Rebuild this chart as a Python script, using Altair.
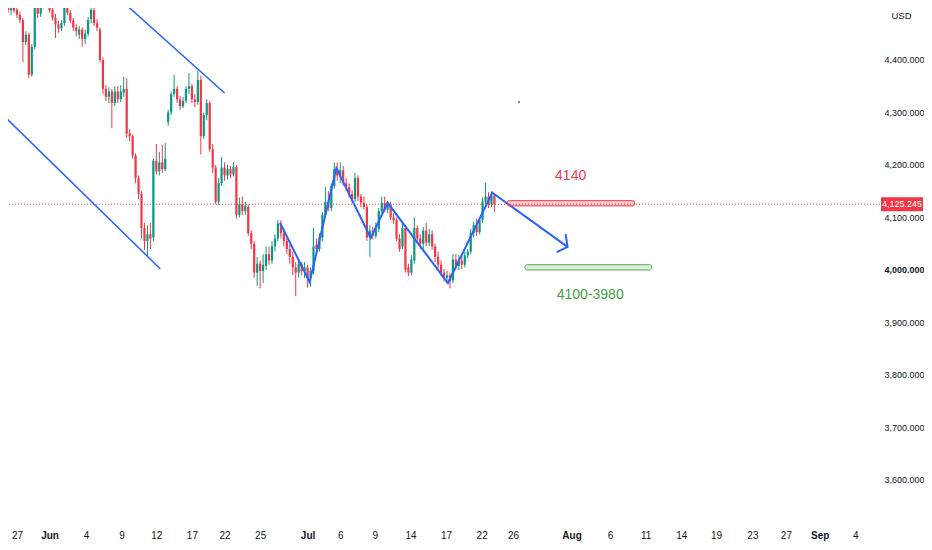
import altair as alt
import pandas as pd

# ---------------- data ----------------
opens = [4505, 4495, 4500, 4496, 4486, 4476, 4434, 4448, 4372, 4425,
         4500, 4488, 4505, 4512, 4510, 4496, 4480, 4468, 4460, 4470,
         4505, 4490, 4475, 4462, 4448, 4458, 4440, 4450, 4478, 4495,
         4470, 4458, 4400, 4345, 4330, 4340, 4318, 4340, 4325, 4338,
         4345, 4260, 4255, 4218, 4175, 4145, 4080, 4055, 4068, 4062,
         4208, 4188, 4205, 4192, 4282, 4300, 4335, 4345, 4325, 4312,
         4322, 4345, 4350, 4325, 4320, 4362, 4255, 4295, 4318, 4230,
         4195, 4130, 4165, 4195, 4180, 4192, 4182, 4196, 4105, 4125,
         4112, 4120, 4070, 4050, 3995, 4012, 3998, 4008, 4030, 4018,
         4045, 4060, 4088, 4070, 4055, 4040, 4025, 4005, 3995, 4012,
         3998, 4005, 3985, 3998, 4048, 4040, 4062, 4105, 4130, 4118,
         4160, 4192, 4178, 4190, 4165, 4158, 4145, 4135, 4175, 4140,
         4128, 4120, 4062, 4075, 4065, 4078, 4112, 4128, 4115, 4125,
         4100, 4095, 4060, 4045, 4080, 4005, 3995, 4018, 4080, 4060,
         4050, 4075, 4052, 4068, 4045, 4025, 4010, 3995, 3985, 3990,
         3980, 4020, 4008, 4018, 4010, 4028, 4035, 4070, 4085, 4072,
         4095, 4130, 4140, 4125, 4142]
highs = [4514, 4505, 4510, 4512, 4492, 4480, 4455, 4452, 4430, 4510,
         4508, 4512, 4520, 4525, 4518, 4505, 4488, 4475, 4476, 4515,
         4512, 4495, 4480, 4468, 4465, 4462, 4458, 4482, 4510, 4500,
         4478, 4462, 4405, 4352, 4348, 4345, 4350, 4350, 4352, 4368,
         4365, 4268, 4258, 4222, 4180, 4150, 4090, 4085, 4090, 4212,
         4240, 4225, 4238, 4242, 4305, 4340, 4372, 4350, 4332, 4330,
         4350, 4375, 4355, 4335, 4380, 4370, 4300, 4325, 4322, 4240,
         4200, 4175, 4215, 4205, 4200, 4198, 4205, 4200, 4138, 4140,
         4130, 4125, 4075, 4055, 4025, 4018, 4030, 4045, 4045, 4055,
         4068, 4095, 4095, 4078, 4062, 4050, 4035, 4015, 4020, 4015,
         4015, 4010, 4005, 4080, 4060, 4070, 4110, 4158, 4150, 4165,
         4205, 4205, 4205, 4198, 4175, 4165, 4152, 4185, 4180, 4145,
         4140, 4125, 4085, 4082, 4090, 4118, 4140, 4140, 4132, 4130,
         4108, 4100, 4068, 4090, 4085, 4012, 4028, 4100, 4085, 4068,
         4082, 4090, 4078, 4075, 4050, 4035, 4018, 4002, 3998, 3995,
         4030, 4030, 4028, 4028, 4035, 4040, 4078, 4092, 4098, 4100,
         4138, 4166, 4148, 4150, 4145]
lows = [4490, 4486, 4490, 4480, 4470, 4396, 4428, 4366, 4368, 4420,
        4480, 4482, 4498, 4500, 4490, 4475, 4442, 4452, 4455, 4465,
        4485, 4470, 4455, 4445, 4440, 4425, 4430, 4445, 4470, 4465,
        4455, 4395, 4335, 4322, 4318, 4270, 4312, 4318, 4320, 4330,
        4252, 4245, 4212, 4165, 4135, 4060, 4038, 4025, 4040, 4055,
        4182, 4180, 4185, 4188, 4275, 4295, 4330, 4318, 4305, 4308,
        4318, 4335, 4318, 4310, 4315, 4220, 4250, 4285, 4225, 4185,
        4125, 4125, 4160, 4170, 4172, 4175, 4178, 4098, 4100, 4105,
        4105, 4065, 4040, 3985, 3970, 3965, 3975, 4000, 4010, 4012,
        4035, 4055, 4060, 4045, 4030, 4012, 3990, 3950, 3985, 3990,
        3985, 3966, 3968, 3992, 4030, 4035, 4055, 4100, 4112, 4112,
        4155, 4170, 4165, 4160, 4150, 4138, 4128, 4130, 4132, 4120,
        4115, 4055, 4025, 4058, 4060, 4072, 4108, 4110, 4108, 4095,
        4088, 4055, 4035, 4040, 3995, 3988, 3990, 4012, 4050, 4040,
        4040, 4045, 4045, 4038, 4015, 4000, 3988, 3978, 3975, 3965,
        3975, 4000, 4000, 4002, 4005, 4022, 4030, 4062, 4065, 4068,
        4090, 4125, 4118, 4120, 4110]
closes = [4495, 4500, 4494, 4486, 4476, 4434, 4448, 4372, 4425, 4500,
          4488, 4505, 4512, 4508, 4495, 4480, 4468, 4460, 4470, 4505,
          4490, 4475, 4462, 4455, 4458, 4440, 4450, 4476, 4496, 4470,
          4462, 4400, 4345, 4330, 4340, 4318, 4340, 4325, 4340, 4345,
          4260, 4255, 4218, 4175, 4145, 4080, 4055, 4068, 4060, 4208,
          4188, 4205, 4192, 4212, 4300, 4335, 4345, 4325, 4312, 4322,
          4345, 4350, 4325, 4320, 4362, 4255, 4295, 4318, 4230, 4195,
          4130, 4165, 4195, 4180, 4192, 4182, 4196, 4105, 4125, 4112,
          4122, 4070, 4050, 3995, 4012, 3998, 4010, 4030, 4018, 4045,
          4060, 4088, 4070, 4055, 4040, 4025, 4005, 3995, 4012, 3998,
          4005, 3985, 3998, 4045, 4040, 4062, 4105, 4130, 4118, 4160,
          4192, 4180, 4190, 4165, 4158, 4145, 4135, 4175, 4140, 4128,
          4120, 4062, 4075, 4065, 4078, 4112, 4128, 4115, 4125, 4100,
          4095, 4060, 4040, 4080, 4000, 3995, 4020, 4080, 4060, 4050,
          4075, 4052, 4068, 4045, 4025, 4010, 3995, 3985, 3990, 3978,
          4020, 4008, 4018, 4010, 4028, 4035, 4070, 4085, 4072, 4095,
          4130, 4140, 4125, 4142, 4125.245]

last_price = [4125.245]

# time axis: bar index -> label
tick_idx = [3, 14, 26.3, 38.3, 50, 62, 73, 85, 101, 112, 123.7, 135.7, 147.7,
            159.7, 170.3, 190, 203, 215, 227, 238.7, 251, 262.3, 273.7, 285.7]
tick_lab = ['27', 'Jun', '4', '9', '12', '17', '22', '25', 'Jul', '6', '9', '14',
            '17', '22', '26', 'Aug', '6', '11', '14', '19', '23', '27', 'Sep', '4']
month_idx = [14, 101, 190, 273.7]

price_ticks = [3600, 3700, 3800, 3900, 4000, 4100, 4200, 4300, 4400]

# drawings (bar index, price)
channel_idx = [38, 73, -1, 51.33]
channel_price = [4514.3, 4337, 4291.4, 4002]
channel_id = ['upper', 'upper', 'lower', 'lower']

zig_idx = [91.7, 101.7, 110.7, 122.3, 128, 148.3, 163.3, 188.67]
zig_price = [4090, 3977, 4194, 4061, 4128, 3975, 4147, 4044]

head_idx = [188, 188.67, 185]
head_price = [4068.5, 4044, 4034]

red_box = dict(x1=[168.3], x2=[211.3], y1=[4122], y2=[4132])
green_box = dict(x1=[174.3], x2=[217], y1=[4000], y2=[4010])

red_text = dict(t=['4140'], i=[189.7], p=[4179])
green_text = dict(t=['4100-3980'], i=[196.3], p=[3952.5])

dot = dict(i=[172.3], p=[4320])

# ---------------- chart ----------------
W, H = 872, 507
xs = alt.Scale(domain=[1.6667, 292.333], nice=False, zero=False)
ys = alt.Scale(domain=[3533.3, 4499.0], nice=False, zero=False)

UP, DOWN, BLUE, GREEN = '#089981', '#f23645', '#2962ff', '#4caf50'
FONT = "Liberation Sans, Arial, sans-serif"
TXT = '#131722'

candles = pd.DataFrame({'i': list(range(len(closes))), 'open': opens,
                        'high': highs, 'low': lows, 'close': closes})

labels_js = "[" + ",".join(f"'{t}'" for t in tick_lab) + "]"
values_js = "[" + ",".join(str(v) for v in tick_idx) + "]"
months_js = "[" + ",".join(str(v) for v in month_idx) + "]"

x_axis = alt.Axis(values=tick_idx, labelExpr=f"{labels_js}[indexof({values_js}, datum.value)]",
                  grid=False, domain=False, ticks=False, tickSize=0, labelPadding=20,
                  labelBaseline='middle', labelFont=FONT, labelFontSize=10, labelColor=TXT,
                  labelOverlap=False, labelFlush=False, labelBound=False, title=None,
                  labelFontWeight={"condition": {"test": f"indexof({months_js}, datum.value) >= 0",
                                                 "value": "bold"}, "value": "normal"})
y_axis = alt.Axis(orient='right', values=price_ticks, format=',.3f', grid=False, domain=False,
                  ticks=False, tickSize=0, labelPadding=4, labelFont=FONT, labelFontSize=9,
                  labelColor=TXT, labelOverlap=False, labelFlush=False,
                  labelFontWeight={"condition": {"test": "datum.value == 4000", "value": "bold"},
                                   "value": "normal"},
                  title='USD', titleAngle=0, titleX=21, titleY=7, titleFont=FONT,
                  titleFontSize=9.5, titleFontWeight='normal', titleColor=TXT,
                  titleAlign='center', titleBaseline='middle')


def X(field):
    return alt.X(field, scale=xs, axis=x_axis)


def Y(field):
    return alt.Y(field, scale=ys, axis=y_axis)


color = alt.condition('datum.close >= datum.open', alt.value(UP), alt.value(DOWN))

wicks = alt.Chart(candles).mark_rule(clip=True, strokeWidth=1).encode(
    x=X('i:Q'), y=Y('low:Q'), y2='high:Q', color=color)
bodies = alt.Chart(candles).mark_bar(clip=True, size=2.2).encode(
    x=X('i:Q'), y=Y('open:Q'), y2='close:Q', color=color)

price_df = pd.DataFrame({'p': last_price})
price_line = alt.Chart(price_df).mark_rule(strokeDash=[1, 2], color=DOWN, strokeWidth=1).encode(
    y=Y('p:Q'))
price_box = alt.Chart(price_df).mark_rule(color=DOWN, strokeWidth=14).encode(
    y=Y('p:Q'), x=alt.value(873), x2=alt.value(915))
price_txt = alt.Chart(price_df).mark_text(color='white', font=FONT, fontSize=9,
                                          align='center', baseline='middle').encode(
    y=Y('p:Q'), x=alt.value(894), text=alt.Text('p:Q', format=',.3f'))

ch_df = pd.DataFrame({'i': channel_idx, 'p': channel_price, 'id': channel_id})
channel = alt.Chart(ch_df).mark_line(clip=True, color=BLUE, strokeWidth=1.5).encode(
    x=X('i:Q'), y=Y('p:Q'), detail='id:N')

zz_df = pd.DataFrame({'i': zig_idx, 'p': zig_price, 'k': list(range(len(zig_idx)))})
zigzag = alt.Chart(zz_df).mark_line(clip=True, color=BLUE, strokeWidth=2).encode(
    x=X('i:Q'), y=Y('p:Q'), order='k:Q')

hd_df = pd.DataFrame({'i': head_idx, 'p': head_price, 'k': list(range(len(head_idx)))})
head = alt.Chart(hd_df).mark_line(clip=True, color=BLUE, strokeWidth=2).encode(
    x=X('i:Q'), y=Y('p:Q'), order='k:Q')


def box(d, fill, stroke):
    return alt.Chart(pd.DataFrame(d)).mark_rect(fill=fill, stroke=stroke, strokeWidth=1,
                                                cornerRadius=2, clip=True).encode(
        x=X('x1:Q'), x2='x2:Q', y=Y('y1:Q'), y2='y2:Q')


rbox = box(red_box, 'rgba(242,54,69,0.25)', DOWN)
gbox = box(green_box, 'rgba(76,175,80,0.18)', GREEN)


def label(d, col):
    return alt.Chart(pd.DataFrame(d)).mark_text(color=col, font=FONT, fontSize=14,
                                                align='center', baseline='middle').encode(
        x=X('i:Q'), y=Y('p:Q'), text='t:N')


rtxt = label(red_text, '#ee3a4c')
gtxt = label(green_text, '#43a047')

dot_mark = alt.Chart(pd.DataFrame(dot)).mark_circle(size=3, color='#444444', opacity=1).encode(
    x=X('i:Q'), y=Y('p:Q'))

chart = alt.layer(
    price_line, wicks, bodies, channel, zigzag, head, rbox, gbox, rtxt, gtxt, dot_mark,
    price_box, price_txt,
).properties(
    width=W, height=H,
    padding={'left': 0, 'top': 0, 'right': 44, 'bottom': 27},
    autosize=alt.AutoSizeParams(type='none'),
    background='white',
).configure_view(stroke=None)

chart.save("out.html", embed_options={"renderer": "svg", "actions": False})
